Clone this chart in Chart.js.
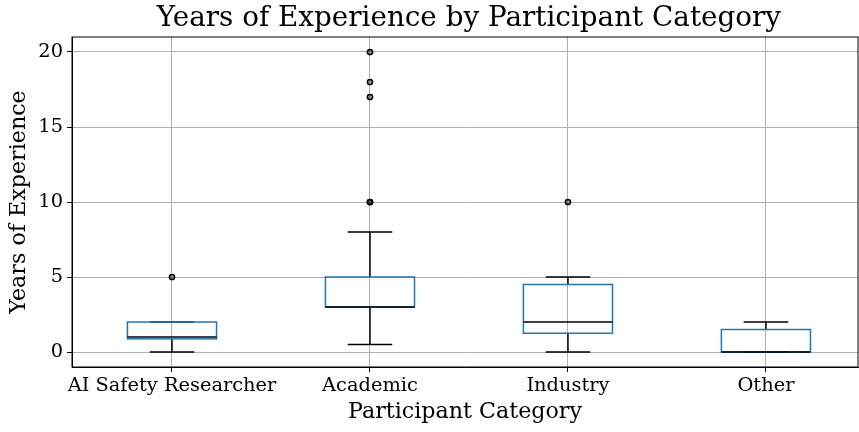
<!DOCTYPE html>
<html>
<head>
<meta charset="utf-8">
<script src="https://cdn.jsdelivr.net/npm/chart.js@4"></script>
<style>
  html, body { margin: 0; padding: 0; background: #fff; overflow: hidden; }
  #wrap { width: 859px; height: 432px; }
</style>
</head>
<body>
<div id="wrap"><canvas id="myChart"></canvas></div>
<script>
// box plot values
const categories = ["AI Safety Researcher", "Academic", "Industry", "Other"];
const q1 = [0.875, 3, 1.25, 0];
const medians = [1, 3, 2, 0];
const q3 = [2, 5, 4.5, 1.5];
const whiskerLow = [0, 0.5, 0, 0];
const whiskerHigh = [2, 8, 5, 2];
const outliers = [[5], [10, 10, 17, 18, 20], [10], []];
const yTicks = [0, 5, 10, 15, 20];

const FONT = "'DejaVu Serif', serif";
const boxHalf = 0.225; // half box width, in category units
const capHalf = 0.1125;

// draws boxes, whiskers and medians through the chart scales
const boxPlot = {
  id: "boxPlot",
  afterDatasetsDraw(chart) {
    const ctx = chart.ctx;
    const x = chart.scales.x;
    const y = chart.scales.y;
    ctx.save();
    ctx.lineWidth = 1.5;
    for (let i = 0; i < categories.length; i++) {
      const cx = x.getPixelForValue(i);
      const bl = x.getPixelForValue(i - boxHalf);
      const br = x.getPixelForValue(i + boxHalf);
      const cl = x.getPixelForValue(i - capHalf);
      const cr = x.getPixelForValue(i + capHalf);
      const yq1 = y.getPixelForValue(q1[i]);
      const yq3 = y.getPixelForValue(q3[i]);
      const ylo = y.getPixelForValue(whiskerLow[i]);
      const yhi = y.getPixelForValue(whiskerHigh[i]);
      const ymed = y.getPixelForValue(medians[i]);

      // whiskers + caps
      ctx.strokeStyle = "#000";
      ctx.beginPath();
      ctx.moveTo(cx, yq1); ctx.lineTo(cx, ylo);
      ctx.moveTo(cx, yq3); ctx.lineTo(cx, yhi);
      ctx.moveTo(cl, ylo); ctx.lineTo(cr, ylo);
      ctx.moveTo(cl, yhi); ctx.lineTo(cr, yhi);
      ctx.stroke();

      // box
      ctx.strokeStyle = "#1f77b4";
      ctx.strokeRect(bl, yq3, br - bl, yq1 - yq3);

      // median
      ctx.strokeStyle = "#000";
      ctx.beginPath();
      ctx.moveTo(bl, ymed); ctx.lineTo(br, ymed);
      ctx.stroke();
    }
    ctx.restore();
  },
  afterDraw(chart) {
    const ctx = chart.ctx;
    const a = chart.chartArea;
    const x = chart.scales.x;
    ctx.save();
    // frame all round
    ctx.strokeStyle = "#000";
    ctx.lineWidth = 1;
    ctx.strokeRect(a.left, a.top, a.right - a.left, a.bottom - a.top);
    // title centred over the full (clipped) axes
    const mid = (x.getPixelForValue(-0.5) + x.getPixelForValue(3.5)) / 2;
    ctx.fillStyle = "#000";
    ctx.font = "27.8px " + FONT;
    ctx.textAlign = "center";
    ctx.textBaseline = "middle";
    ctx.fillText("Years of Experience by Participant Category", mid, 19);
    ctx.restore();
  },
};

const flierData = [];
outliers.forEach((vals, i) => vals.forEach((v) => flierData.push({ x: i, y: v })));

const context = document.getElementById("myChart").getContext("2d");
const myChart = new Chart(context, {
  type: "scatter",
  data: {
    datasets: [
      {
        data: flierData,
        pointRadius: 2.6,
        pointBorderWidth: 1.5,
        pointBorderColor: "#000",
        pointBackgroundColor: "rgba(0,0,0,0.35)",
      },
    ],
  },
  options: {
    responsive: true,
    maintainAspectRatio: false,
    animation: false,
    layout: { autoPadding: false, padding: { top: 37, right: 1, left: 0, bottom: 0 } },
    plugins: {
      legend: { display: false },
      tooltip: { enabled: false },
    },
    scales: {
      x: {
        type: "linear",
        min: -0.505,
        max: 3.465,
        afterBuildTicks: (scale) => {
          scale.ticks = categories.map((c, i) => ({ value: i }));
        },
        afterFit: (scale) => { scale.height = 65; },
        ticks: {
          callback: (v) => categories[v],
          color: "#000",
          font: { family: FONT, size: 19.4 },
          padding: 2,
          maxRotation: 0,
          autoSkip: false,
        },
        grid: { color: "#b0b0b0", lineWidth: 1, tickLength: 5, tickColor: "#000" },
        border: { display: true, color: "#000", width: 1 },
        title: {
          display: true,
          text: "Participant Category",
          color: "#000",
          font: { family: FONT, size: 22.2 },
          padding: { top: 0, bottom: 6 },
        },
      },
      y: {
        min: -1,
        max: 21,
        afterBuildTicks: (scale) => {
          scale.ticks = yTicks.map((v) => ({ value: v }));
        },
        afterFit: (scale) => { scale.width = 72; },
        ticks: {
          color: "#000",
          font: { family: FONT, size: 19.4 },
          padding: 4,
        },
        grid: { color: "#b0b0b0", lineWidth: 1, tickLength: 5, tickColor: "#000" },
        border: { display: true, color: "#000", width: 1 },
        title: {
          display: true,
          text: "Years of Experience",
          color: "#000",
          font: { family: FONT, size: 22.2 },
          padding: { top: 6, bottom: 0 },
        },
      },
    },
  },
  plugins: [boxPlot],
});
</script>
</body>
</html>
